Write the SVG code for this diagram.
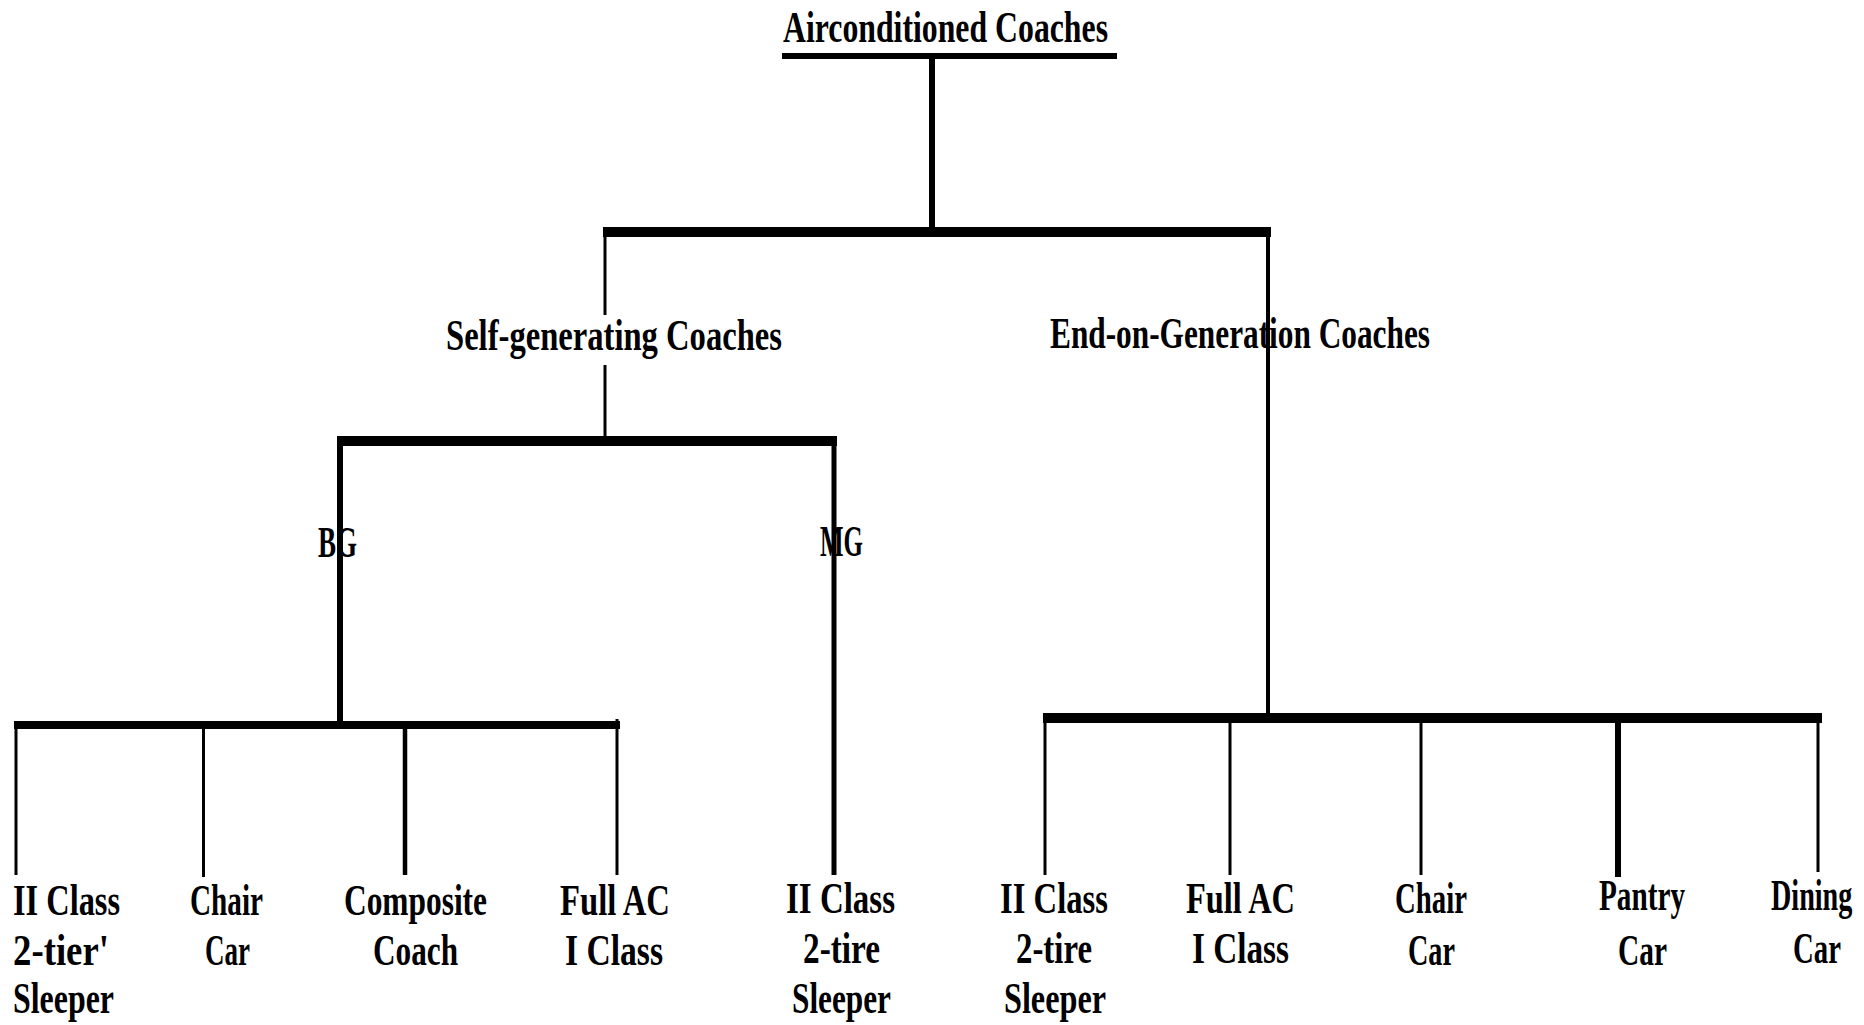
<svg xmlns="http://www.w3.org/2000/svg" width="1864" height="1025" viewBox="0 0 1864 1025">
<style>
text{font-family:"Liberation Serif","DejaVu Serif",serif;font-weight:bold;font-size:44px;fill:#000}
.c{stroke:#000;fill:none;stroke-linecap:butt}
.bar{fill:#000}
</style>
<rect width="1864" height="1025" fill="#fff"/>
<g id="connectors">
<rect class="bar" x="782" y="53" width="335" height="6"/>
<line class="c" x1="932" y1="57" x2="932" y2="232" stroke-width="6"/>
<rect class="bar" x="603" y="227" width="668" height="10"/>
<line class="c" x1="605" y1="232" x2="605" y2="315" stroke-width="3"/>
<line class="c" x1="605" y1="365" x2="605" y2="441" stroke-width="3"/>
<line class="c" x1="1268" y1="232" x2="1268" y2="718" stroke-width="4"/>
<rect class="bar" x="337" y="436" width="500" height="10"/>
<line class="c" x1="340" y1="441" x2="340" y2="725" stroke-width="6"/>
<line class="c" x1="834" y1="441" x2="834" y2="875" stroke-width="5"/>
<rect class="bar" x="14" y="721" width="606" height="8"/>
<line class="c" x1="16" y1="725" x2="16" y2="875" stroke-width="3"/>
<line class="c" x1="203.5" y1="725" x2="203.5" y2="877" stroke-width="3"/>
<line class="c" x1="405" y1="725" x2="405" y2="875" stroke-width="4.5"/>
<line class="c" x1="617" y1="719" x2="617" y2="875" stroke-width="3"/>
<rect class="bar" x="1043" y="713" width="779" height="10"/>
<line class="c" x1="1045" y1="718" x2="1045" y2="875" stroke-width="3"/>
<line class="c" x1="1230" y1="718" x2="1230" y2="875" stroke-width="3"/>
<line class="c" x1="1421" y1="718" x2="1421" y2="875" stroke-width="3"/>
<line class="c" x1="1618" y1="718" x2="1618" y2="877" stroke-width="6"/>
<line class="c" x1="1818" y1="718" x2="1818" y2="872" stroke-width="3"/>
</g>
<g id="root"><text x="783" y="42" textLength="325" lengthAdjust="spacingAndGlyphs">Airconditioned Coaches</text></g>
<g id="self-generating"><text x="446" y="350" textLength="336" lengthAdjust="spacingAndGlyphs">Self-generating Coaches</text></g>
<g id="end-on-generation"><text x="1050" y="348" textLength="380" lengthAdjust="spacingAndGlyphs">End-on-Generation Coaches</text></g>
<g id="bg"><text x="318" y="557" textLength="39" lengthAdjust="spacingAndGlyphs">BG</text></g>
<g id="mg"><text x="820" y="556" textLength="43" lengthAdjust="spacingAndGlyphs">MG</text></g>
<g id="bg-2tier">
<text x="13" y="915" textLength="107" lengthAdjust="spacingAndGlyphs">II Class</text>
<text x="13" y="965" textLength="96" lengthAdjust="spacingAndGlyphs">2-tier'</text>
<text x="13" y="1013" textLength="101" lengthAdjust="spacingAndGlyphs">Sleeper</text>
</g>
<g id="bg-chair">
<text x="190" y="915" textLength="73" lengthAdjust="spacingAndGlyphs">Chair</text>
<text x="205" y="965" textLength="45" lengthAdjust="spacingAndGlyphs">Car</text>
</g>
<g id="bg-composite">
<text x="344" y="915" textLength="143" lengthAdjust="spacingAndGlyphs">Composite</text>
<text x="373" y="965" textLength="85" lengthAdjust="spacingAndGlyphs">Coach</text>
</g>
<g id="bg-fullac">
<text x="560" y="915" textLength="110" lengthAdjust="spacingAndGlyphs">Full AC</text>
<text x="565" y="965" textLength="98" lengthAdjust="spacingAndGlyphs">I Class</text>
</g>
<g id="mg-2tire">
<text x="786" y="913" textLength="109" lengthAdjust="spacingAndGlyphs">II Class</text>
<text x="803" y="963" textLength="77" lengthAdjust="spacingAndGlyphs">2-tire</text>
<text x="792" y="1013" textLength="99" lengthAdjust="spacingAndGlyphs">Sleeper</text>
</g>
<g id="eog-2tire">
<text x="1000" y="913" textLength="108" lengthAdjust="spacingAndGlyphs">II Class</text>
<text x="1016" y="963" textLength="76" lengthAdjust="spacingAndGlyphs">2-tire</text>
<text x="1004" y="1013" textLength="102" lengthAdjust="spacingAndGlyphs">Sleeper</text>
</g>
<g id="eog-fullac">
<text x="1186" y="913" textLength="109" lengthAdjust="spacingAndGlyphs">Full AC</text>
<text x="1192" y="963" textLength="97" lengthAdjust="spacingAndGlyphs">I Class</text>
</g>
<g id="eog-chair">
<text x="1395" y="913" textLength="72" lengthAdjust="spacingAndGlyphs">Chair</text>
<text x="1408" y="965" textLength="47" lengthAdjust="spacingAndGlyphs">Car</text>
</g>
<g id="eog-pantry">
<text x="1599" y="910" textLength="86" lengthAdjust="spacingAndGlyphs">Pantry</text>
<text x="1618" y="965" textLength="49" lengthAdjust="spacingAndGlyphs">Car</text>
</g>
<g id="eog-dining">
<text transform="translate(1771 910) scale(0.64 1)" x="0" y="0">Dining</text>
<text x="1793" y="963" textLength="48" lengthAdjust="spacingAndGlyphs">Car</text>
</g>
</svg>
